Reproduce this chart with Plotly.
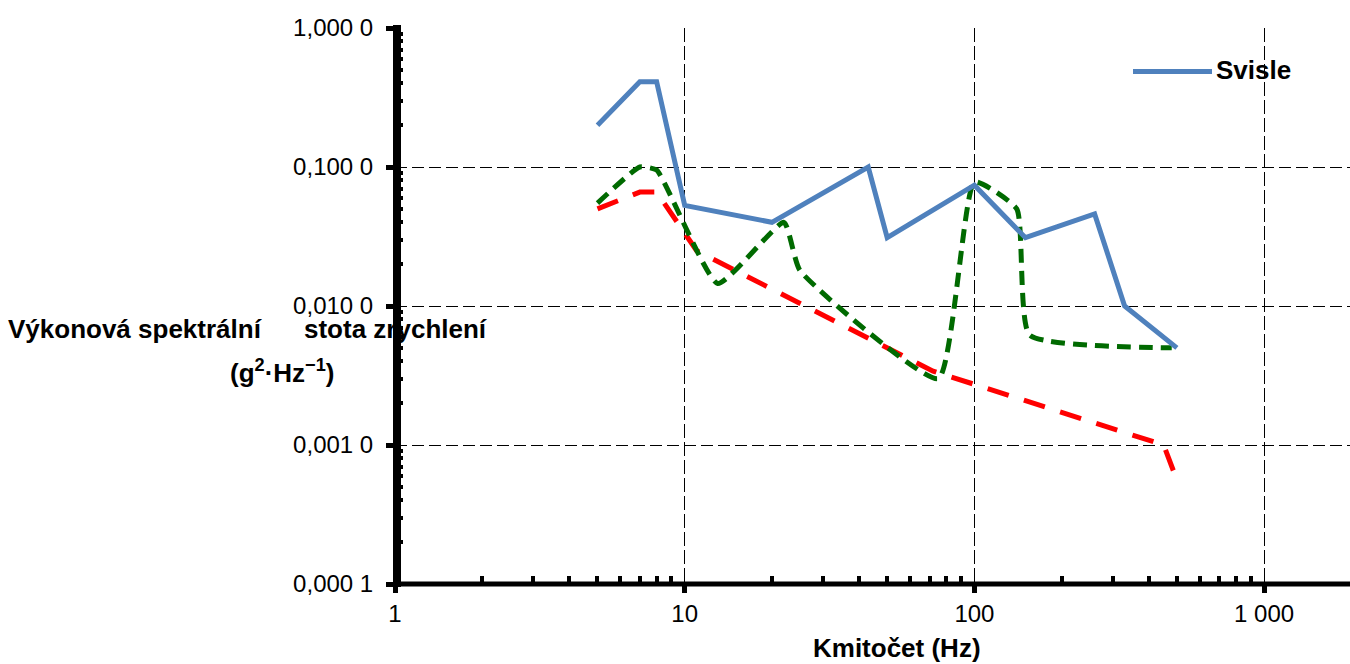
import plotly.graph_objects as go

# ---- data ----
freq_svisle = [5, 7, 8, 10, 20, 43, 50, 100, 150, 260, 330, 500]
psd_svisle = [0.2, 0.41, 0.41, 0.053, 0.04, 0.1, 0.031, 0.074, 0.031, 0.046, 0.01, 0.005]

freq_green = [5, 7, 8, 13, 22, 25, 75, 100, 140, 155, 480]
psd_green = [0.055, 0.1, 0.095, 0.0145, 0.04, 0.018, 0.003, 0.078, 0.05, 0.0062, 0.005]

freq_red = [5, 7, 8, 11, 72, 450, 500]
psd_red = [0.05, 0.066, 0.066, 0.025, 0.0034, 0.001, 0.00056]

x_tickvals = [1, 10, 100, 1000]
x_ticktext = ["1", "10", "100", "1 000"]
y_tickvals = [0.0001, 0.001, 0.01, 0.1, 1]
y_ticktext = ["0,000 1", "0,001 0", "0,010 0", "0,100 0", "1,000 0"]

x_title = "Kmitočet (Hz)"
y_title_a = "Výkonová spektrální"
y_title_b = "stota zrychlení"
y_title_unit = "(g<sup>2</sup>·Hz<sup>−1</sup>)"
legend_label = "Svisle"

BLUE = "#4F81BD"
GREEN = "#006A00"
RED = "#FF0000"
FONT = "Liberation Sans, Arial, sans-serif"

x_minor = [k * 10 ** e for e in range(0, 3) for k in range(2, 10)]
y_minor = [k * 10.0 ** e for e in range(-4, 0) for k in range(2, 10)]

fig = go.Figure()
fig.add_trace(go.Scatter(x=freq_red, y=psd_red, mode="lines", name="Příčně",
                         line=dict(color=RED, width=5, dash="22px,16px"),
                         showlegend=False))
fig.add_trace(go.Scatter(x=freq_green, y=psd_green, mode="lines", name="Podélně",
                         line=dict(color=GREEN, width=5, dash="14px,8px",
                                   shape="spline", smoothing=0.45),
                         showlegend=False))
fig.add_trace(go.Scatter(x=freq_svisle, y=psd_svisle, mode="lines", name=legend_label,
                         line=dict(color=BLUE, width=5), showlegend=False))

W, H = 1350, 664
L, R, T, B = 395, 0, 28, 80
pw, ph = W - L - R, H - T - B
decade_px = 289.7

def px_x(p):
    return (p - L) / pw

def px_y(p):
    return (H - B - p) / ph

fig.update_layout(
    width=W, height=H,
    margin=dict(l=L, r=R, t=T, b=B),
    paper_bgcolor="white", plot_bgcolor="white",
    font=dict(family=FONT, color="black"),
    showlegend=False,
    xaxis=dict(
        type="log", range=[0, pw / decade_px],
        tickmode="array", tickvals=x_tickvals, ticktext=x_ticktext,
        tickfont=dict(size=24, color="black"),
        showline=False,
        ticks="outside", ticklen=8, tickwidth=5, tickcolor="black",
        showgrid=True, gridcolor="black", gridwidth=1, griddash="14px,4px",
        minor=dict(tickmode="array", tickvals=x_minor, ticks="inside",
                   ticklen=8, tickwidth=4, tickcolor="black", showgrid=False),
        ticklabelstandoff=0,
        zeroline=False,
    ),
    yaxis=dict(
        type="log", range=[-4, 0],
        tickmode="array", tickvals=y_tickvals, ticktext=y_ticktext,
        tickfont=dict(size=24, color="black"),
        showline=False,
        ticks="outside", ticklen=8, tickwidth=5, tickcolor="black",
        showgrid=True, gridcolor="black", gridwidth=1, griddash="12px,5px",
        minor=dict(tickmode="array", tickvals=y_minor, ticks="inside",
                   ticklen=8, tickwidth=4, tickcolor="black", showgrid=False),
        ticklabelstandoff=8,
        zeroline=False,
    ),
)

# axis lines (thick, centred on the axis like the original)
fig.add_shape(type="line", xref="paper", yref="paper",
              x0=px_x(397), x1=px_x(397), y0=px_y(587), y1=px_y(25),
              line=dict(color="black", width=8), layer="above")
fig.add_shape(type="line", xref="paper", yref="paper",
              x0=px_x(393), x1=1, y0=px_y(584), y1=px_y(584),
              line=dict(color="black", width=5), layer="above")

# white legend box (hides the 1000 Hz gridline behind it)
fig.add_shape(type="rect", xref="paper", yref="paper",
              x0=px_x(1120), x1=px_x(1310), y0=px_y(125), y1=px_y(47),
              fillcolor="white", line=dict(width=0), layer="between")
# legend sample line
fig.add_shape(type="line", xref="paper", yref="paper",
              x0=px_x(1133), x1=px_x(1212), y0=px_y(71.5), y1=px_y(71.5),
              line=dict(color=BLUE, width=5), layer="above")
fig.add_annotation(text="<b>%s</b>" % legend_label, xref="paper", yref="paper",
                   x=px_x(1214), y=px_y(70), xanchor="left", yanchor="middle",
                   showarrow=False, font=dict(size=26, family=FONT, color="black"))

# axis titles
fig.add_annotation(text="<b>%s</b>" % x_title, xref="paper", yref="paper",
                   x=px_x(897), y=px_y(648), xanchor="center", yanchor="middle",
                   showarrow=False, font=dict(size=26, family=FONT, color="black"))
fig.add_annotation(text="<b>%s</b>" % y_title_a, xref="paper", yref="paper",
                   x=px_x(6), y=px_y(329), xanchor="left", yanchor="middle",
                   showarrow=False, font=dict(size=26, family=FONT, color="black"))
fig.add_annotation(text="<b>%s</b>" % y_title_b, xref="paper", yref="paper",
                   x=px_x(302), y=px_y(329), xanchor="left", yanchor="middle",
                   showarrow=False, font=dict(size=26, family=FONT, color="black"))
fig.add_annotation(text="<b>%s</b>" % y_title_unit, xref="paper", yref="paper",
                   x=px_x(282), y=px_y(372), xanchor="center", yanchor="middle",
                   showarrow=False, font=dict(size=26, family=FONT, color="black"))

fig.write_html("out.html", config={"displayModeBar": False},
               post_script="document.body.style.margin='0';document.body.style.overflow='hidden';")
